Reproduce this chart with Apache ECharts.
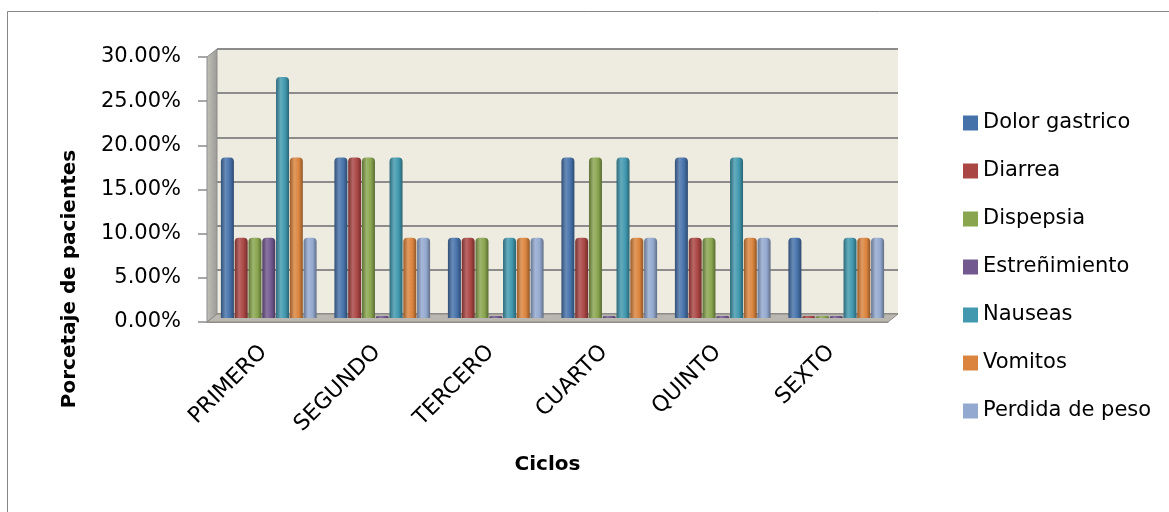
<!DOCTYPE html>
<html>
<head>
<meta charset="utf-8">
<script src="https://cdn.jsdelivr.net/npm/echarts@6/dist/echarts.min.js"></script>
<style>
  html, body { margin: 0; padding: 0; background: #ffffff; }
  #chart { width: 1169px; height: 512px; }
</style>
</head>
<body>
<div id="chart"></div>
<script>
// Cycles of treatment
const categories = ['PRIMERO', 'SEGUNDO', 'TERCERO', 'CUARTO', 'QUINTO', 'SEXTO'];

// Percentage of patients with each side effect, per cycle
const dolorGastrico  = [18.18, 18.18, 9.09, 18.18, 18.18, 9.09];
const diarrea        = [9.09, 18.18, 9.09, 9.09, 9.09, 0];
const dispepsia      = [9.09, 18.18, 9.09, 18.18, 9.09, 0];
const estrenimiento  = [9.09, 0, 0, 0, 0, 0];
const nauseas        = [27.27, 18.18, 9.09, 18.18, 18.18, 9.09];
const vomitos        = [18.18, 9.09, 9.09, 9.09, 9.09, 9.09];
const perdidaPeso    = [9.09, 9.09, 9.09, 9.09, 9.09, 9.09];

const seriesNames = ['Dolor gastrico', 'Diarrea', 'Dispepsia', 'Estreñimiento', 'Nauseas', 'Vomitos', 'Perdida de peso'];
const seriesData = [dolorGastrico, diarrea, dispepsia, estrenimiento, nauseas, vomitos, perdidaPeso];
const seriesColors = ['#4672AA', '#AA4643', '#89A54E', '#71588F', '#4198AF', '#DB843D', '#93A9CF'];

const yTicks = [0, 5, 10, 15, 20, 25, 30];

// Plot box of the front (value) axis and depth of the 3D walls
const FRONT = { left: 207, top: 57, right: 281, bottom: 190 };
const DX = 10, DY = 8;
const W = 1169, H = 512;

function shade(hex, f) {
  const n = parseInt(hex.slice(1), 16);
  let r = (n >> 16) & 255, g = (n >> 8) & 255, b = n & 255;
  const mix = (c) => f >= 0 ? Math.round(c + (255 - c) * f) : Math.round(c * (1 + f));
  return 'rgb(' + mix(r) + ',' + mix(g) + ',' + mix(b) + ')';
}

// Horizontal gradient gives each bar a cylinder look
function cylinder(hex) {
  return new echarts.graphic.LinearGradient(0, 0, 1, 0, [
    { offset: 0, color: shade(hex, -0.3) },
    { offset: 0.35, color: shade(hex, 0.18) },
    { offset: 0.7, color: hex },
    { offset: 1, color: shade(hex, -0.35) }
  ]);
}

const fontFamily = 'DejaVu Sans';

const chart = echarts.init(document.getElementById('chart'), null, { renderer: 'canvas' });

const frontX = FRONT.left, frontTop = FRONT.top, frontBottom = H - FRONT.bottom, frontRight = W - FRONT.right;

function gridAt(fx, fy, extra) {
  return Object.assign({
    left: FRONT.left + fx, top: FRONT.top - fy, right: FRONT.right - fx, bottom: FRONT.bottom + fy
  }, extra || {});
}

const option = {
  animation: false,
  backgroundColor: '#ffffff',
  textStyle: { fontFamily: fontFamily },
  legend: {
    orient: 'vertical',
    left: 958,
    top: 106,
    itemWidth: 15,
    itemHeight: 15,
    itemGap: 24,
    icon: 'rect',
    data: seriesNames.map((n, i) => ({ name: n, itemStyle: { color: seriesColors[i] } })),
    textStyle: { fontFamily: fontFamily, fontSize: 21, color: '#000', lineHeight: 24 }
  },
  grid: [
    // back wall
    gridAt(DX, DY, { show: true, backgroundColor: '#EEECE1', borderWidth: 0 }),
    // front plane: value ticks and category labels
    gridAt(0, 0, { show: false }),
    // middle depth plane where the cylinders stand
    gridAt(DX / 2, DY / 2, { show: false })
  ],
  xAxis: [
    { gridIndex: 0, type: 'category', data: categories, show: false },
    {
      gridIndex: 1, type: 'category', data: categories,
      name: 'Ciclos', nameLocation: 'middle', nameGap: 133,
      nameTextStyle: { fontFamily: fontFamily, fontSize: 20, fontWeight: 'bold', color: '#000' },
      axisLine: { show: true, lineStyle: { color: '#8E8C85', width: 1 } },
      axisTick: { show: false },
      axisLabel: { rotate: 45, margin: 27, fontFamily: fontFamily, fontSize: 22, color: '#000' }
    },
    { gridIndex: 2, type: 'category', data: categories, show: false }
  ],
  yAxis: [
    {
      gridIndex: 0, type: 'value', min: 0, max: 30, interval: 5,
      axisLine: { show: false }, axisTick: { show: false }, axisLabel: { show: false },
      splitLine: { show: true, lineStyle: { color: '#8C8C8C', width: 2 } }
    },
    {
      gridIndex: 1, type: 'value', min: 0, max: 30, interval: 5,
      axisLine: { show: true, lineStyle: { color: '#8C8C8C' } },
      axisTick: { show: true, length: 9, lineStyle: { color: '#8C8C8C', width: 1.5 } },
      axisLabel: { margin: 26, fontFamily: fontFamily, fontSize: 21, color: '#000',
        formatter: (v) => yTicks.indexOf(v) >= 0 ? v.toFixed(2) + '%' : '' },
      splitLine: { show: false }
    },
    { gridIndex: 2, type: 'value', min: 0, max: 30, interval: 5, show: false, splitLine: { show: false } }
  ],
  series: seriesNames.map((name, i) => ({
    name: name,
    type: 'bar',
    xAxisIndex: 2,
    yAxisIndex: 2,
    data: seriesData[i],
    barWidth: 13,
    barGap: '6%',
    barMinHeight: 2,
    z: 5,
    itemStyle: { color: cylinder(seriesColors[i]), borderRadius: [4, 4, 0, 0] }
  })),
  graphic: [
    // left side wall
    {
      type: 'polygon', z: 1, silent: true,
      shape: { points: [[frontX, frontTop], [frontX + DX, frontTop - DY], [frontX + DX, frontBottom - DY], [frontX, frontBottom]] },
      style: { fill: new echarts.graphic.LinearGradient(0, 0, 1, 0, [
        { offset: 0, color: '#C2C1BA' }, { offset: 1, color: '#9A9993' }]), stroke: '#8C8C8C', lineWidth: 1 }
    },
    // floor
    {
      type: 'polygon', z: 1, silent: true,
      shape: { points: [[frontX, frontBottom], [frontX + DX, frontBottom - DY], [frontRight + DX, frontBottom - DY], [frontRight, frontBottom]] },
      style: { fill: '#B9B7AF', stroke: '#8E8C85', lineWidth: 1 }
    },
    // value-axis title
    {
      type: 'text', z: 10, silent: true,
      x: 70, y: 279, rotation: Math.PI / 2,
      style: { text: 'Porcetaje de pacientes', font: 'bold 20px "DejaVu Sans"', fill: '#000',
        align: 'center', verticalAlign: 'middle' }
    },
    // chart frame
    {
      type: 'rect', z: 0, silent: true,
      shape: { x: 7.5, y: 11.5, width: 1300, height: 700 },
      style: { fill: null, stroke: '#868686', lineWidth: 1 }
    }
  ]
};

chart.setOption(option);
</script>
</body>
</html>
